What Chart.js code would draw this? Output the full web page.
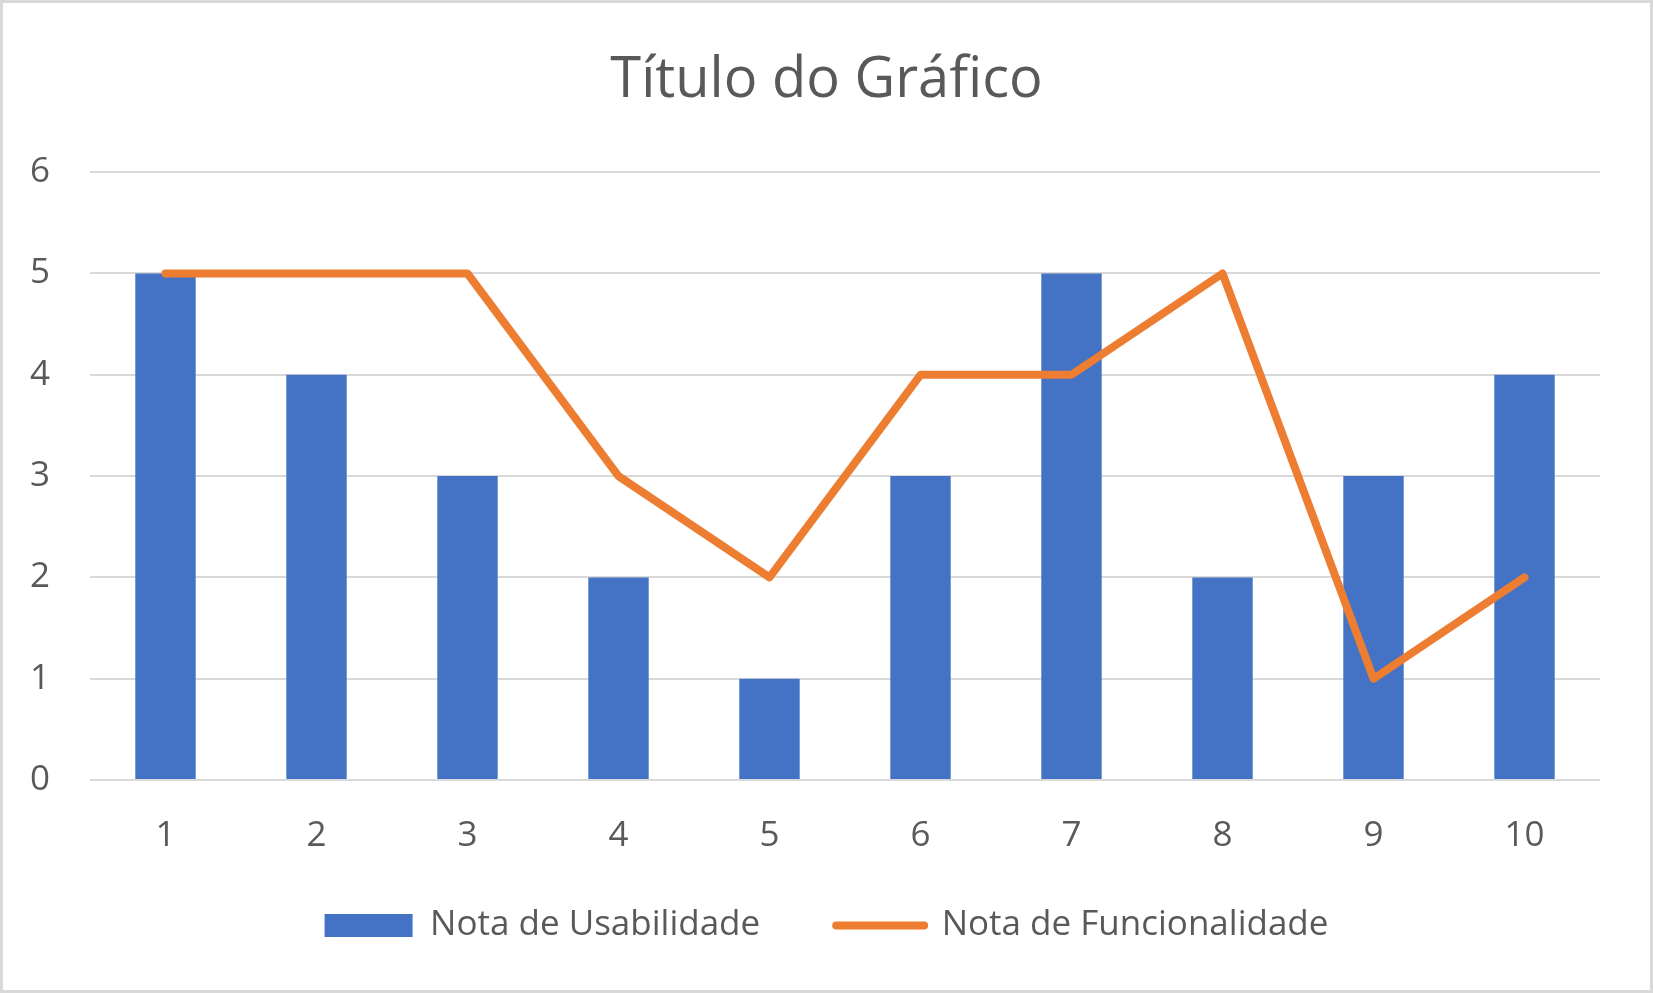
<!DOCTYPE html>
<html>
<head>
<meta charset="utf-8">
<script src="https://cdn.jsdelivr.net/npm/chart.js@4.4.1/dist/chart.umd.min.js"></script>
<style>
  html, body { margin: 0; padding: 0; background: #fff; }
  #wrap { width: 1653px; height: 993px; box-sizing: border-box; border: 3px solid #D9D9D9; background: #fff; }
  canvas { display: block; }
</style>
</head>
<body>
<div id="wrap"><canvas id="c" width="1647" height="987"></canvas></div>
<script>
const categories = ['1', '2', '3', '4', '5', '6', '7', '8', '9', '10'];
const usabilidade = [5, 4, 3, 2, 1, 3, 5, 2, 3, 4];
const funcionalidade = [5, 5, 5, 3, 2, 4, 4, 5, 1, 2];
const yTicks = [0, 1, 2, 3, 4, 5, 6];
const titleText = 'Título do Gráfico';
const seriesNames = ['Nota de Usabilidade', 'Nota de Funcionalidade'];

const FONT = "'Open Sans', 'Noto Sans', sans-serif";
const TXT = '#595959';
const BLUE = '#4472C4';
const ORANGE = '#ED7D31';

new Chart(document.getElementById('c'), {
  data: {
    labels: categories,
    datasets: [
      {
        type: 'bar',
        label: seriesNames[0],
        data: usabilidade,
        backgroundColor: BLUE,
        borderWidth: 0,
        barPercentage: 0.4,
        categoryPercentage: 1.0,
        order: 1
      },
      {
        type: 'line',
        label: seriesNames[1],
        data: funcionalidade,
        borderColor: ORANGE,
        backgroundColor: ORANGE,
        borderWidth: 8,
        borderCapStyle: 'round',
        borderJoinStyle: 'round',
        tension: 0,
        pointRadius: 0,
        pointHoverRadius: 0,
        fill: false,
        order: 0
      }
    ]
  },
  options: {
    responsive: false,
    animation: false,
    devicePixelRatio: 1,
    layout: { padding: { left: 50, right: 50, top: 0, bottom: 37 } },
    plugins: {
      tooltip: { enabled: false },
      title: {
        display: true,
        text: titleText,
        color: TXT,
        font: { family: FONT, size: 56, weight: 'normal', lineHeight: 1.2 },
        padding: { top: 44, bottom: 58 }
      },
      legend: {
        display: true,
        position: 'bottom',
        align: 'center',
        labels: {
          color: TXT,
          font: { family: FONT, size: 35 },
          usePointStyle: true,
          pointStyleWidth: 88,
          boxHeight: 23,
          padding: 76,
          sort: (a, b) => a.datasetIndex - b.datasetIndex,
          generateLabels: (chart) => {
            const items = Chart.defaults.plugins.legend.labels.generateLabels(chart);
            return items.map((it) => {
              if (it.datasetIndex === 0) {
                return Object.assign(it, { pointStyle: 'rect', lineWidth: 0, fillStyle: BLUE, strokeStyle: BLUE });
              }
              return Object.assign(it, { pointStyle: 'line', lineWidth: 8, lineCap: 'round', strokeStyle: ORANGE, fillStyle: ORANGE });
            });
          }
        }
      }
    },
    scales: {
      x: {
        grid: { display: false, drawTicks: false },
        border: { display: false },
        ticks: { color: TXT, font: { family: FONT, size: 35 }, padding: 35 },
        afterFit: (s) => { s.height = 52; s._computeLabelArea = () => undefined; }
      },
      y: {
        min: 0,
        max: 6,
        afterBuildTicks: (s) => { s.ticks = yTicks.map(v => ({ value: v })); },
        grid: { color: '#D9D9D9', lineWidth: 2, drawTicks: false },
        border: { display: false },
        ticks: { color: TXT, font: { family: FONT, size: 35 }, padding: 40 },
        afterFit: (s) => { s.width = 37; s._computeLabelArea = () => undefined; }
      }
    }
  }
});
</script>
</body>
</html>
